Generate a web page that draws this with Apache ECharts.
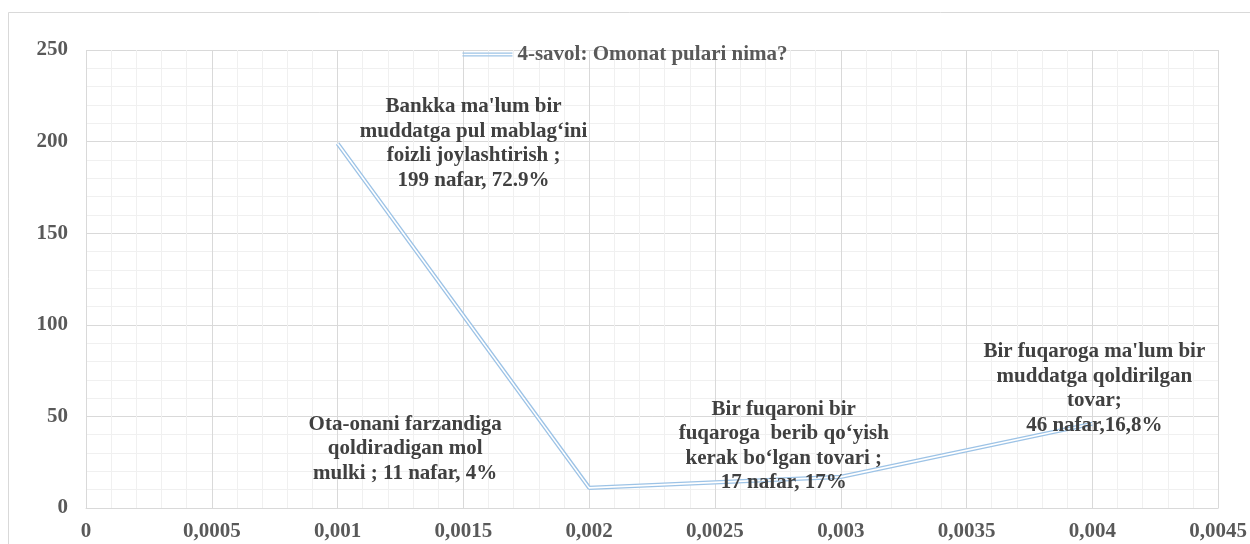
<!DOCTYPE html>
<html>
<head>
<meta charset="utf-8">
<script src="https://cdn.jsdelivr.net/npm/echarts@6/dist/echarts.min.js"></script>
<style>
  html, body { margin: 0; padding: 0; background: #fff; }
  #main { width: 1250px; height: 544px; }
</style>
</head>
<body>
<div id="main"></div>
<script>
const seriesName = '4-savol: Omonat pulari nima?';
const xValues = [0.001, 0.002, 0.003, 0.004];
const yValues = [199, 11, 17, 46];
const labelTexts = [
  "Bankka ma'lum bir\nmuddatga pul mablag‘ini\nfoizli joylashtirish ;\n199 nafar, 72.9%",
  "Ota-onani farzandiga\nqoldiradigan mol\nmulki ; 11 nafar, 4%",
  "Bir fuqaroni bir\nfuqaroga  berib qo‘yish\nkerak bo‘lgan tovari ;\n17 nafar, 17%",
  "Bir fuqaroga ma'lum bir\nmuddatga qoldirilgan\ntovar;\n46 nafar,16,8%"
];
// label placement relative to each point (pixels)
const labelOffsets = [[136, 0], [-184, -39], [-57, -31], [2, -35]];

const fontFamily = '"Liberation Serif", "Times New Roman", serif';

const points = xValues.map((x, i) => ({
  value: [x, yValues[i]],
  name: labelTexts[i],
  label: { offset: labelOffsets[i] }
}));

const chart = echarts.init(document.getElementById('main'));
chart.setOption({
  animation: false,
  backgroundColor: '#fff',
  graphic: [{
    type: 'rect',
    shape: { x: 8.5, y: 12.5, width: 1300, height: 600 },
    style: { fill: 'none', stroke: '#d9d9d9', lineWidth: 1 },
    silent: true,
    z: -10
  }],
  grid: { left: 86, right: 29, top: 50, bottom: 36 },
  legend: {
    data: [{ name: seriesName, icon: 'path://M0,0H50V1.3H0Z M0,2.9H50V4.2H0Z' }],
    left: 'center',
    top: 39,
    itemWidth: 50,
    itemHeight: 5,
    itemGap: 8,
    textStyle: { fontFamily: fontFamily, fontWeight: 'bold', fontSize: 21, color: '#595959' }
  },
  xAxis: {
    type: 'value',
    min: 0,
    max: 0.0045,
    interval: 0.0005,
    axisLine: { show: true, lineStyle: { color: '#d9d9d9' } },
    axisTick: { show: false },
    axisLabel: {
      margin: 13,
      fontFamily: fontFamily, fontWeight: 'bold', fontSize: 21, color: '#595959',
      formatter: v => String(+v.toFixed(4)).replace('.', ',')
    },
    splitLine: { show: true, lineStyle: { color: '#d9d9d9', width: 1 } },
    minorTick: { show: false, splitNumber: 5 },
    minorSplitLine: { show: true, lineStyle: { color: '#f0f0f0', width: 1 } }
  },
  yAxis: {
    type: 'value',
    min: 0,
    max: 250,
    interval: 50,
    axisLine: { show: false },
    axisTick: { show: false },
    axisLabel: { margin: 18, fontFamily: fontFamily, fontWeight: 'bold', fontSize: 21, color: '#595959' },
    splitLine: { show: true, lineStyle: { color: '#d9d9d9', width: 1 } },
    minorTick: { show: false, splitNumber: 5 },
    minorSplitLine: { show: true, lineStyle: { color: '#f0f0f0', width: 1 } }
  },
  series: [
    {
      name: seriesName,
      type: 'line',
      data: points.map(p => p.value),
      symbol: 'none',
      lineStyle: { color: '#9dc3e6', width: 4.2 },
      itemStyle: { color: '#9dc3e6' },
      z: 2
    },
    {
      name: 'inner',
      type: 'line',
      data: points,
      symbol: 'circle',
      symbolSize: 1,
      showSymbol: true,
      itemStyle: { color: 'rgba(0,0,0,0)' },
      lineStyle: { color: '#ffffff', width: 1.6 },
      label: {
        show: true,
        position: 'inside',
        formatter: p => p.name,
        align: 'center',
        verticalAlign: 'middle',
        lineHeight: 24.5,
        fontFamily: fontFamily,
        fontWeight: 'bold',
        fontSize: 21,
        color: '#404040'
      },
      z: 3
    }
  ]
});
</script>
</body>
</html>
